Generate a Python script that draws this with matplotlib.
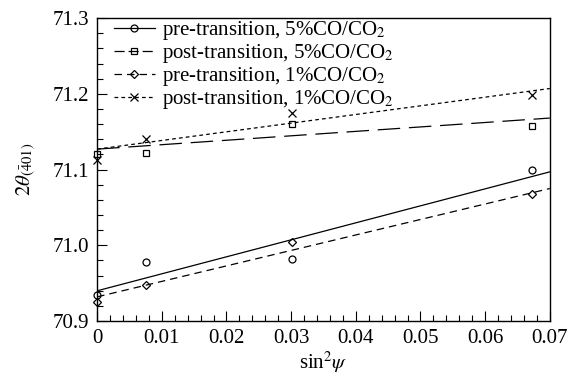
import numpy as np
import matplotlib
matplotlib.use("Agg")
import matplotlib.pyplot as plt
from matplotlib.ticker import MultipleLocator, FixedLocator

plt.rcParams['font.family'] = ['Liberation Serif', 'DejaVu Serif']
plt.rcParams['mathtext.fontset'] = 'stix'

x = [0.0, 0.0075, 0.0302, 0.0672]
pre5 = [70.935, 70.978, 70.982, 71.100]
post5 = [71.120, 71.122, 71.160, 71.158]
pre1 = [70.925, 70.948, 71.005, 71.068]
post1 = [71.113, 71.140, 71.175, 71.198]

fit_x = [0.0, 0.07]
fit_pre5 = [70.940, 71.097]
fit_post5 = [71.127, 71.168]
fit_pre1 = [70.932, 71.075]
fit_post1 = [71.127, 71.207]

labels = ['pre-transition, 5%CO/CO$_2$', 'post-transition, 5%CO/CO$_2$',
          'pre-transition, 1%CO/CO$_2$', 'post-transition, 1%CO/CO$_2$']
xticks = [0, 0.01, 0.02, 0.03, 0.04, 0.05, 0.06, 0.07]
xticklabels = ['0', '0.01', '0.02', '0.03', '0.04', '0.05', '0.06', '0.07']
yticks = [70.9, 71.0, 71.1, 71.2, 71.3]
yticklabels = ['70.9', '71.0', '71.1', '71.2', '71.3']

FS = 15

fig = plt.figure(figsize=(5.68, 3.76), dpi=100)
ax = fig.add_axes([0.171, 0.146, 0.797, 0.806])

lw = 0.9
styles = [
    dict(marker='o', dashes=None),
    dict(marker='s', dashes=(18, 7)),
    dict(marker='D', dashes=(6, 4)),
    dict(marker='x', dashes=(3, 2.5)),
]
data = [pre5, post5, pre1, post1]
fits = [fit_pre5, fit_post5, fit_pre1, fit_post1]
msizes = [5, 5, 3.8, 5.5]
handles = []
for d, f, st, lab, ms in zip(data, fits, styles, labels, msizes):
    ax.plot(x, d, ls='none', marker=st['marker'], mfc='none', mec='black',
            ms=ms, mew=0.9, clip_on=False, zorder=3)
    kw = dict(color='black', lw=lw)
    if st['dashes'] is not None:
        ax.plot(fit_x, f, ls='--', dashes=st['dashes'], **kw)
        h, = ax.plot([], [], ls='--', marker=st['marker'], mfc='none', mec='black',
                     ms=ms, mew=0.9, **kw)
        dsh = st['dashes']
        h.set_dashes((dsh[0] * 0.45, dsh[1] * 0.45) if dsh[0] > 10 else dsh)
    else:
        ax.plot(fit_x, f, ls='-', **kw)
        h, = ax.plot([], [], ls='-', marker=st['marker'], mfc='none', mec='black',
                     ms=ms, mew=0.9, **kw)
    h.set_label(lab)
    handles.append(h)

ax.set_xlim(0, 0.07)
ax.set_ylim(70.9, 71.3)
ax.xaxis.set_major_locator(FixedLocator(xticks))
ax.set_xticklabels(xticklabels)
ax.yaxis.set_major_locator(FixedLocator(yticks))
ax.set_yticklabels(yticklabels)
ax.xaxis.set_minor_locator(MultipleLocator(0.002))
ax.yaxis.set_minor_locator(MultipleLocator(0.02))
ax.tick_params(which='both', direction='in', top=False, right=False,
               labelsize=FS, width=0.8)
ax.tick_params(which='major', length=7, pad=6)
ax.tick_params(which='minor', length=4)
for s in ax.spines.values():
    s.set_linewidth(1.0)

ax.set_xlabel(r'sin$^2\psi$', fontsize=FS, labelpad=1)
ax.set_ylabel(r'$2\theta_{(\bar{4}01)}$', fontsize=FS, labelpad=10)

ax.legend(handles=handles, loc='upper left', frameon=False, fontsize=FS,
          handlelength=2.0, handletextpad=0.3, labelspacing=0.0,
          borderaxespad=0.0, numpoints=1, bbox_to_anchor=(0.018, 1.025))

fig.savefig('out.png', dpi=100)
